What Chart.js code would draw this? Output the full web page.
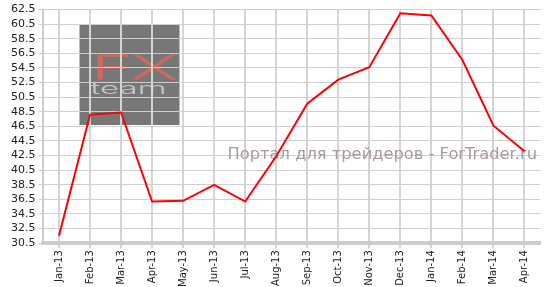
<!DOCTYPE html>
<html>
<head>
<meta charset="utf-8">
<script src="https://cdn.jsdelivr.net/npm/chart.js@4/dist/chart.umd.min.js"></script>
<style>
  html, body { margin: 0; padding: 0; background: #fff; }
  #wrap { width: 544px; height: 287px; }
</style>
</head>
<body>
<div id="wrap"><canvas id="myChart" width="544" height="287"></canvas></div>
<script>
var months = ['Jan-13', 'Feb-13', 'Mar-13', 'Apr-13', 'May-13', 'Jun-13', 'Jul-13', 'Aug-13',
              'Sep-13', 'Oct-13', 'Nov-13', 'Dec-13', 'Jan-14', 'Feb-14', 'Mar-14', 'Apr-14'];
var values = [31.5, 48.1, 48.4, 36.2, 36.3, 38.5, 36.2, 42.4,
              49.6, 52.9, 54.6, 62.0, 61.7, 55.6, 46.6, 43.1];
var yMin = 30.5;
var yMax = 62.5;
var yStep = 2;
var watermark = 'Портал для трейдеров - ForTrader.ru';

// background logo + site text, drawn under the grid / line
var logoPlugin = {
    id: 'logo',
    beforeDraw: function(chart) {
        var ctx = chart.ctx;
        var a = chart.chartArea;
        ctx.save();
        ctx.fillStyle = '#777777';
        ctx.fillRect(a.left + 36, 25, 100, 100);

        // "FX"
        ctx.save();
        ctx.translate(a.left + 48, 79);
        ctx.scale(2.1, 1);
        ctx.fillStyle = '#c96b5f';
        ctx.strokeStyle = '#c96b5f';
        ctx.lineWidth = 1;
        ctx.font = '200 33px Inter, "DejaVu Sans"';
        ctx.fillText('FX', 0, 0);
        ctx.strokeText('FX', 0, 0);
        ctx.restore();

        // "team"
        ctx.save();
        ctx.translate(a.left + 47, 94);
        ctx.scale(2.2, 1);
        ctx.fillStyle = '#c8c8c8';
        ctx.font = '300 15px Inter, "DejaVu Sans"';
        ctx.fillText('team', 0, 0);
        ctx.restore();
        ctx.restore();
    },
    beforeDatasetsDraw: function(chart) {
        var ctx = chart.ctx;
        var a = chart.chartArea;
        ctx.save();
        ctx.fillStyle = '#a89b9b';
        ctx.font = '16.3px "DejaVu Sans"';
        ctx.textAlign = 'right';
        ctx.textBaseline = 'alphabetic';
        ctx.fillText(watermark, a.right - 3, 159);
        ctx.restore();
    }
};

var ctx = document.getElementById('myChart');
var myChart = new Chart(ctx, {
    type: 'line',
    data: {
        labels: months,
        datasets: [{
            data: values,
            borderColor: '#ff0000',
            borderWidth: 2,
            pointRadius: 0,
            tension: 0,
            fill: false
        }]
    },
    options: {
        responsive: false,
        animation: false,
        layout: { padding: { left: 8, right: 4, top: 3, bottom: -2 } },
        plugins: {
            legend: { display: false },
            tooltip: { enabled: false }
        },
        scales: {
            x: {
                offset: true,
                grid: { offset: false, color: '#d4d4d4', lineWidth: 2, tickLength: 5 },
                border: { color: '#cccccc', width: 4 },
                ticks: {
                    color: '#222',
                    font: { family: 'DejaVu Sans', size: 10 },
                    minRotation: 90,
                    maxRotation: 90,
                    autoSkip: false,
                    padding: 2
                }
            },
            y: {
                min: yMin,
                max: yMax,
                grid: { color: '#cfcfcf', lineWidth: 1, tickLength: 5 },
                border: { color: '#cccccc', width: 2 },
                ticks: {
                    stepSize: yStep,
                    autoSkip: false,
                    color: '#222',
                    font: { family: 'DejaVu Sans', size: 11 },
                    padding: 3,
                    callback: function(v) { return v.toFixed(1); }
                }
            }
        }
    },
    plugins: [logoPlugin]
});
</script>
</body>
</html>
